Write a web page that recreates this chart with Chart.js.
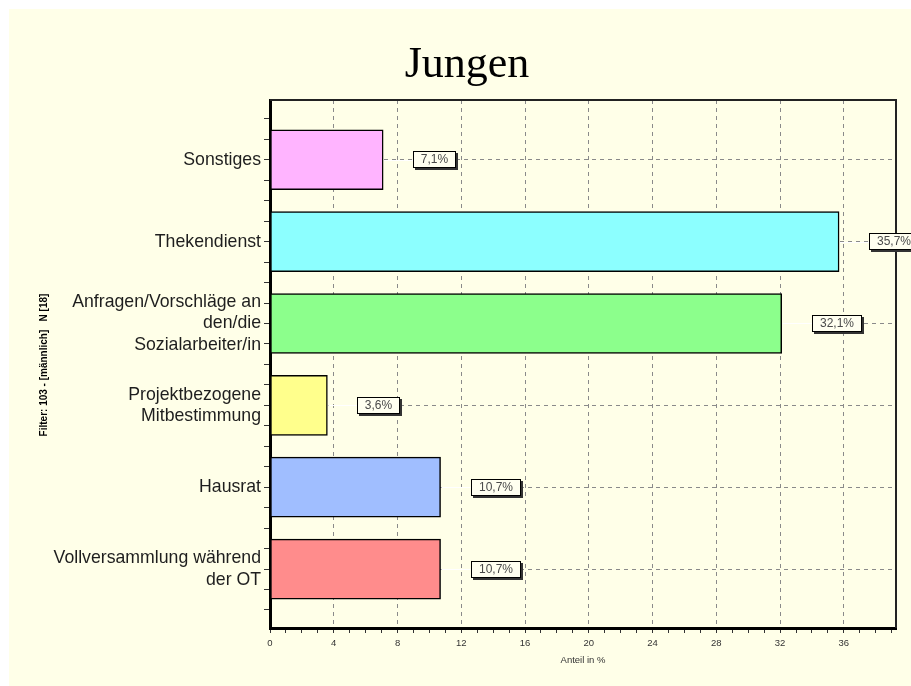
<!DOCTYPE html>
<html>
<head>
<meta charset="utf-8">
<script src="https://cdn.jsdelivr.net/npm/chart.js@4/dist/chart.umd.min.js"></script>
<style>
  html, body { margin: 0; padding: 0; background: #ffffff; }
  #wrap { width: 911px; height: 686px; position: relative; }
</style>
</head>
<body>
<div id="wrap"><canvas id="c" width="911" height="686"></canvas></div>
<script>
// ---- data ----
const chartTitle = 'Jungen';
const filterText = 'Filter: 103 - [männlich]   N [18]';
const xAxisTitle = 'Anteil in %';
const categories = [
  'Sonstiges',
  'Thekendienst',
  ['Anfragen/Vorschläge an', 'den/die', 'Sozialarbeiter/in'],
  ['Projektbezogene', 'Mitbestimmung'],
  'Hausrat',
  ['Vollversammlung während', 'der OT']
];
const values = [7.1, 35.7, 32.1, 3.6, 10.7, 10.7];
const xTickStep = 4;
const xMax = 39.27;

// ---- styles ----
const barColors = ['#FFB4FF', '#8CFFFF', '#8CFF8C', '#FFFF8C', '#A0BEFF', '#FF8C8C'];
const cream = '#FFFFE8';

const bgPlugin = {
  id: 'bg',
  beforeDraw(chart) {
    const ctx = chart.ctx;
    ctx.save();
    ctx.fillStyle = '#ffffff';
    ctx.fillRect(0, 0, chart.width, chart.height);
    ctx.fillStyle = cream;
    ctx.fillRect(9, 9, chart.width - 9, chart.height - 9);
    ctx.restore();
  }
};

const decoPlugin = {
  id: 'deco',
  afterDatasetsDraw(chart) {
    const ctx = chart.ctx;
    const a = chart.chartArea;
    const meta = chart.getDatasetMeta(0);
    ctx.save();
    // top + right frame (under the value boxes)
    ctx.strokeStyle = '#222222';
    ctx.lineWidth = 2;
    ctx.beginPath();
    ctx.moveTo(a.left, a.top);
    ctx.lineTo(a.right, a.top);
    ctx.lineTo(a.right, a.bottom);
    ctx.stroke();

    ctx.font = '12px "Liberation Sans", Arial, sans-serif';
    ctx.textBaseline = 'middle';
    ctx.textAlign = 'center';
    meta.data.forEach((bar, i) => {
      const txt = values[i].toFixed(1).replace('.', ',') + '%';
      const tw = ctx.measureText(txt).width;
      const bw = Math.round(tw + 16);
      const bh = 17;
      const bx = Math.round(bar.x + 30);
      const by = Math.round(bar.y - bh / 2);
      ctx.strokeStyle = '#ffffff';
      ctx.lineWidth = 1;
      ctx.beginPath();
      ctx.moveTo(bar.x + 1, Math.round(bar.y) + 0.5);
      ctx.lineTo(bx, Math.round(bar.y) + 0.5);
      ctx.stroke();
      ctx.fillStyle = '#333333';
      ctx.fillRect(bx + 2, by + 2, bw, bh);
      ctx.fillStyle = '#FFFFF0';
      ctx.fillRect(bx, by, bw, bh);
      ctx.strokeStyle = '#000000';
      ctx.lineWidth = 1;
      ctx.strokeRect(bx + 0.5, by + 0.5, bw - 1, bh - 1);
      ctx.fillStyle = '#4a4a4a';
      ctx.fillText(txt, bx + bw / 2, by + bh / 2 + 0.5);
    });
    ctx.restore();
  },
  afterDraw(chart) {
    const ctx = chart.ctx;
    ctx.save();
    ctx.fillStyle = '#000000';
    ctx.font = '44px "Liberation Serif", "Times New Roman", serif';
    ctx.textAlign = 'center';
    ctx.textBaseline = 'alphabetic';
    ctx.fillText(chartTitle, 467, 77);
    ctx.translate(44, 365);
    ctx.rotate(-Math.PI / 2);
    ctx.font = 'bold 10px "Liberation Sans", Arial, sans-serif';
    ctx.textBaseline = 'middle';
    ctx.fillText(filterText, 0, 0);
    ctx.restore();
  }
};

new Chart(document.getElementById('c'), {
  type: 'bar',
  data: {
    datasets: [{
      data: values.map((v, i) => ({ x: v, y: i })),
      backgroundColor: barColors,
      borderColor: '#000000',
      borderWidth: 1.5,
      borderSkipped: false,
      barThickness: 60
    }]
  },
  options: {
    indexAxis: 'y',
    responsive: false,
    animation: false,
    layout: { padding: { left: 0, top: 100, right: 15, bottom: 0 } },
    plugins: {
      legend: { display: false },
      tooltip: { enabled: false },
      title: { display: false }
    },
    scales: {
      x: {
        type: 'linear',
        min: 0,
        max: xMax,
        offset: false,
        afterFit(scale) { scale.height = 58; },
        ticks: {
          stepSize: 1,
          includeBounds: false,
          autoSkip: false,
          maxRotation: 0,
          padding: 5,
          color: '#333333',
          font: { size: 9.5, family: '"Liberation Sans", Arial, sans-serif' },
          callback: (v) => (v % xTickStep === 0 ? String(v) : '')
        },
        grid: {
          offset: false,
          color: (ctx) => (ctx.tick && ctx.tick.value % xTickStep === 0 && ctx.tick.value !== 0 ? '#8a8a8a' : 'rgba(0,0,0,0)'),
          lineWidth: 1,
          tickColor: '#333333',
          tickLength: 5,
          tickBorderDash: []
        },
        border: { display: true, color: '#000000', width: 3, dash: [4, 4] },
        title: {
          display: true,
          text: xAxisTitle,
          color: '#333333',
          font: { size: 9.5, family: '"Liberation Sans", Arial, sans-serif' },
          padding: { top: 0, bottom: 20 }
        }
      },
      y: {
        type: 'linear',
        reverse: true,
        min: -0.73,
        max: 5.72,
        offset: false,
        afterFit(scale) { scale.width = 270; },
        afterBuildTicks(scale) {
          scale.ticks = scale.ticks.filter(t => t.value >= scale.min && t.value <= scale.max);
        },
        ticks: {
          stepSize: 0.25,
          includeBounds: false,
          autoSkip: false,
          padding: 3,
          color: '#1e1e1e',
          font: { size: 17.7, family: '"Liberation Sans", Arial, sans-serif', lineHeight: 1.2 },
          callback: (v) => (Number.isInteger(v) && categories[v] !== undefined ? categories[v] : '')
        },
        grid: {
          offset: false,
          color: (ctx) => (ctx.tick && Number.isInteger(ctx.tick.value) ? '#8a8a8a' : 'rgba(0,0,0,0)'),
          lineWidth: 1,
          tickColor: '#333333',
          tickLength: 6,
          tickBorderDash: []
        },
        border: { display: true, color: '#000000', width: 3, dash: [4, 4] }
      }
    }
  },
  plugins: [bgPlugin, decoPlugin]
});
</script>
</body>
</html>
